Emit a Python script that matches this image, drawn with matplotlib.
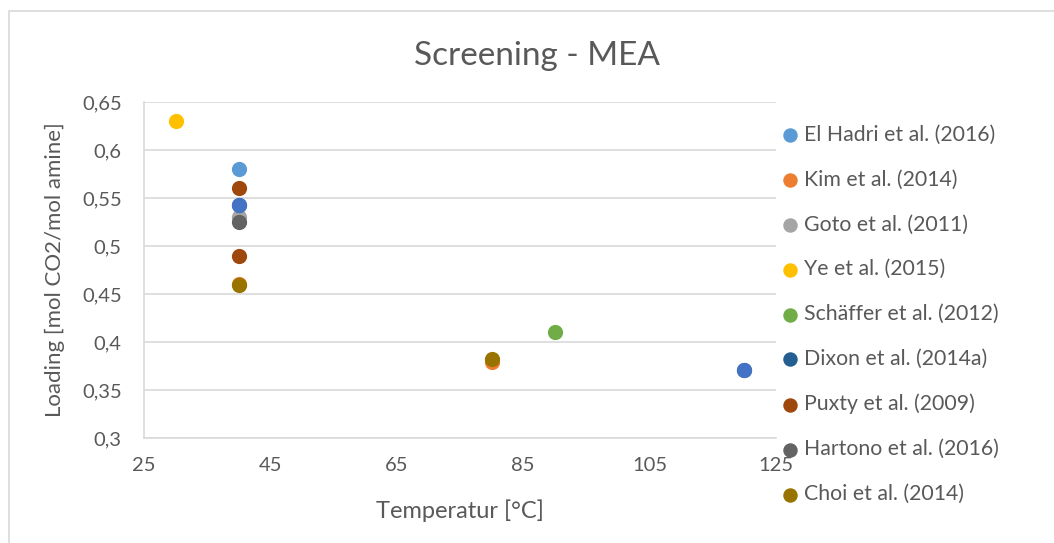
import matplotlib.pyplot as plt
from matplotlib.patches import Rectangle
from matplotlib.ticker import FuncFormatter

# Screening data for MEA: equilibrium loading vs. temperature
series_names = [
    "El Hadri et al. (2016)",
    "Kim et al. (2014)",
    "Goto et al. (2011)",
    "Ye et al. (2015)",
    "Schäffer et al. (2012)",
    "Dixon et al. (2014a)",
    "Puxty et al. (2009)",
    "Hartono et al. (2016)",
    "Choi et al. (2014)",
]
series_colors = [
    "#5B9BD5", "#ED7D31", "#A5A5A5", "#FFC000", "#70AD47",
    "#255E91", "#9E480E", "#636363", "#997300",
]
temps = [
    [40],
    [40, 80],
    [40],
    [30],
    [90],
    [40, 120],
    [40, 40],
    [40],
    [40, 80],
]
loadings = [
    [0.58],
    [0.46, 0.379],
    [0.53],
    [0.63],
    [0.41],
    [0.543, 0.371],
    [0.56, 0.49],
    [0.525],
    [0.459, 0.382],
]
# extra series without legend entry
extra_temps = [40, 120]
extra_loadings = [0.543, 0.371]
extra_color = "#4472C4"

x_ticks = [25, 45, 65, 85, 105, 125]
y_ticks = [0.3, 0.35, 0.4, 0.45, 0.5, 0.55, 0.6, 0.65]

TEXT = "#595959"
GRID = "#D9D9D9"
plt.rcParams["font.family"] = ["Lato", "DejaVu Sans"]

fig = plt.figure(figsize=(10.54, 5.43), dpi=100, facecolor="white")
ax = fig.add_axes([0.1366, 0.1934, 0.5996, 0.6188])

for i, (name, col) in enumerate(zip(series_names, series_colors)):
    ax.scatter(temps[i], loadings[i], s=120, color=col, label=name,
               zorder=3 + i * 0.1, linewidths=0, clip_on=False)
ax.scatter(extra_temps, extra_loadings, s=120, color=extra_color,
           label="_nolegend_", zorder=4.5, linewidths=0, clip_on=False)

ax.set_xlim(25, 125)
ax.set_ylim(0.3, 0.65)
ax.set_xticks(x_ticks)
ax.set_yticks(y_ticks)
ax.yaxis.set_major_formatter(FuncFormatter(lambda v, p: f"{v:g}".replace(".", ",")))
ax.tick_params(length=0, labelsize=14.5, colors=TEXT)
ax.tick_params(axis="y", pad=16)
ax.tick_params(axis="x", pad=14)
ax.grid(axis="y", color=GRID, linewidth=1.2)
ax.set_axisbelow(True)
for side in ["top", "right"]:
    ax.spines[side].set_visible(False)
for side in ["left", "bottom"]:
    ax.spines[side].set_color(GRID)
    ax.spines[side].set_linewidth(1.2)

ax.set_xlabel("Temperatur [°C]", fontsize=17, color=TEXT, labelpad=18)
ax.set_ylabel("Loading [mol CO2/mol amine]", fontsize=16, color=TEXT, labelpad=12)
fig.text(0.5095, 0.897, "Screening - MEA", fontsize=24, color=TEXT,
         ha="center", va="center")

leg = fig.legend(loc="upper left", bbox_to_anchor=(0.7285, 0.790),
                 frameon=False, fontsize=15.3, labelcolor=TEXT,
                 labelspacing=1.17, handletextpad=0.1, handlelength=1.1,
                 borderpad=0, markerscale=0.95)

# chart area border
fig.patches.append(Rectangle((9 / 1054, -0.1), 1.2, 1 - 11 / 543 + 0.1,
                             transform=fig.transFigure, fill=False,
                             edgecolor=GRID, linewidth=1.2))

fig.savefig("out.png", dpi=100, facecolor="white")
